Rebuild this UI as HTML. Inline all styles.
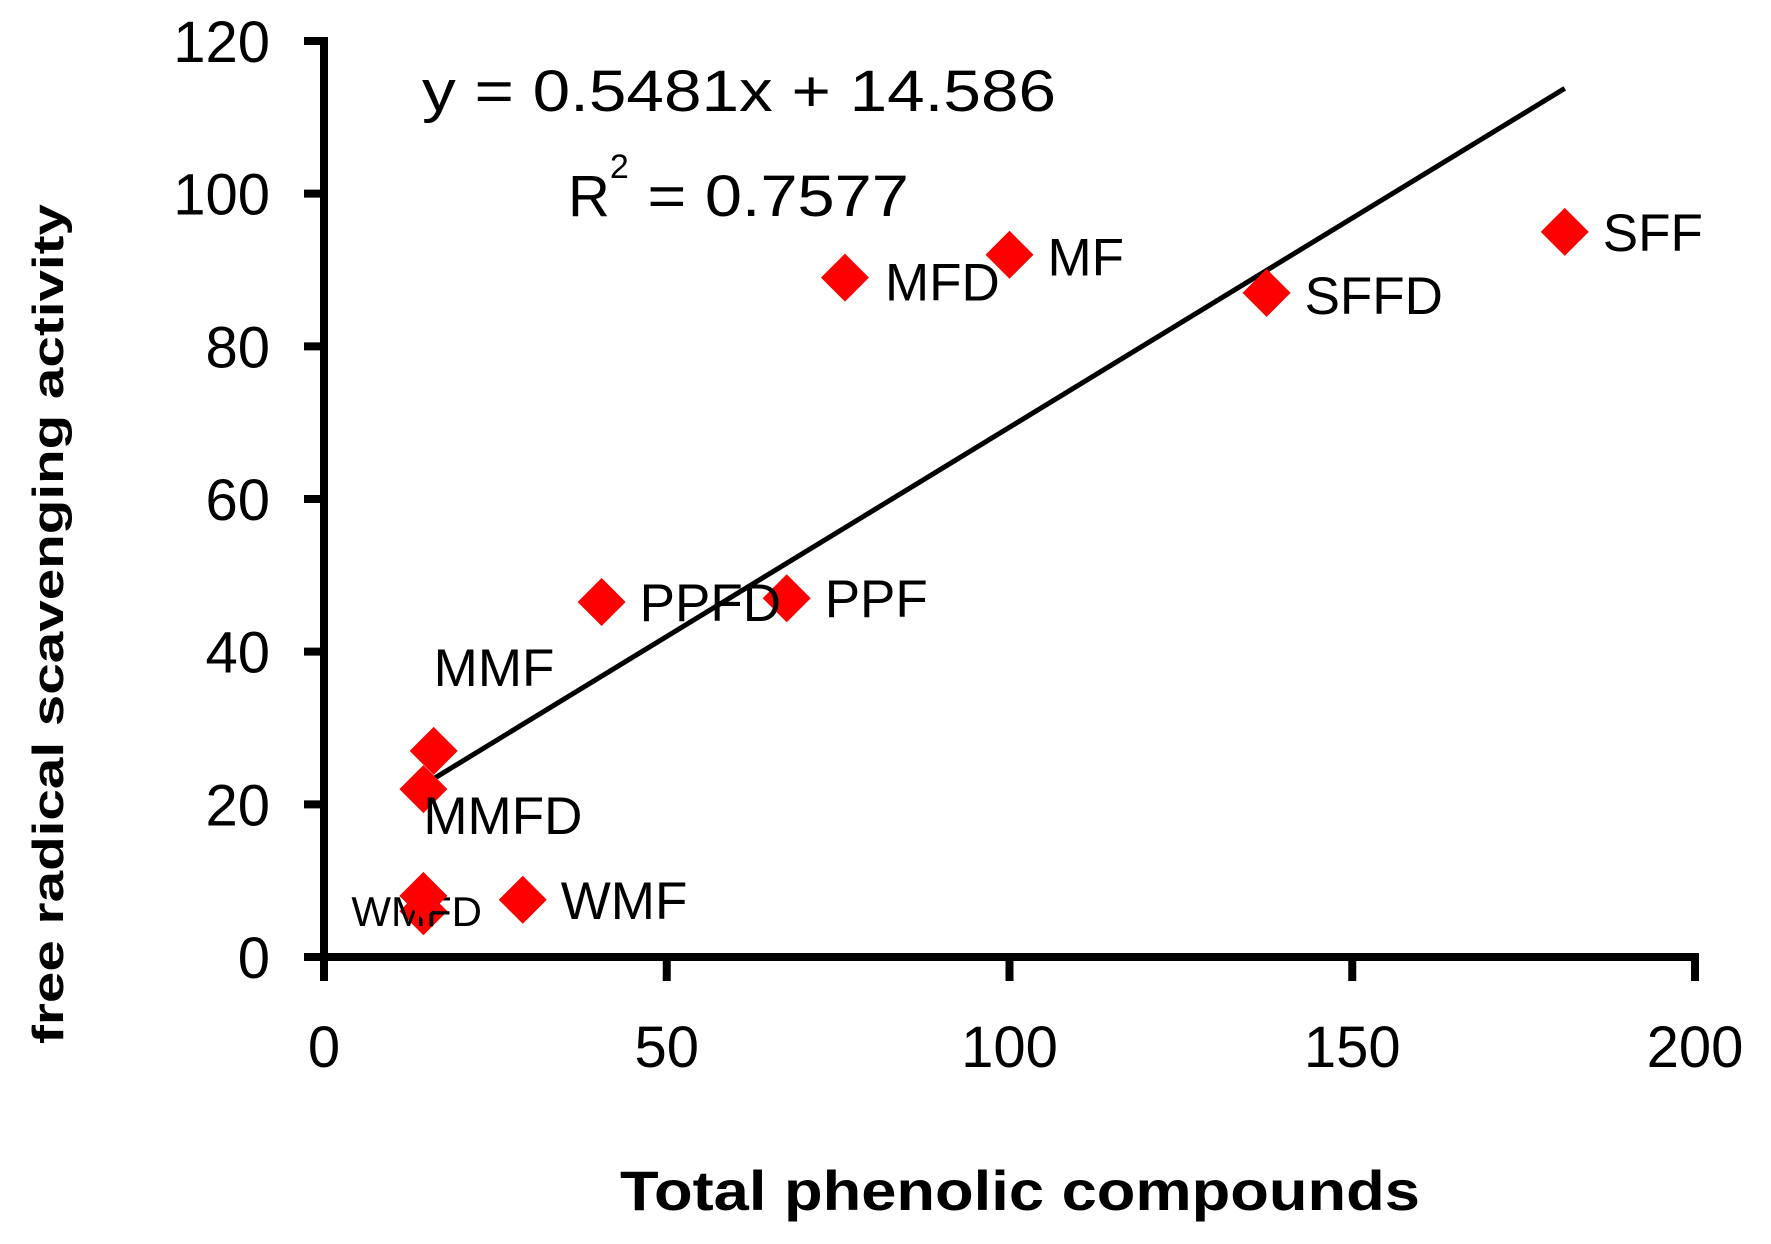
<!DOCTYPE html>
<html><head><meta charset="utf-8"><style>
body{margin:0;background:#fff}
svg{display:block}
text{font-family:"Liberation Sans",sans-serif}
</style></head><body>
<svg id="chart" width="1771" height="1244" viewBox="0 0 1771 1244">
<g id="axes"></g>
<g id="marks"></g>
<text x="422" y="111" font-size="58" textLength="634" lengthAdjust="spacingAndGlyphs">y = 0.5481x + 14.586</text>
<text x="568" y="216" font-size="58">R<tspan font-size="34" dy="-38">2</tspan><tspan dy="38" textLength="280" lengthAdjust="spacingAndGlyphs"> = 0.7577</tspan></text>
<text x="1020" y="1210" font-size="56" font-weight="bold" text-anchor="middle" textLength="800" lengthAdjust="spacingAndGlyphs">Total phenolic compounds</text>
<text transform="translate(63,624) rotate(-90)" font-size="44" font-weight="bold" text-anchor="middle" textLength="840" lengthAdjust="spacingAndGlyphs">free radical scavenging activity</text>
</svg>
<script>
const names=["SFF","SFFD","MF","MFD","PPF","PPFD","MMF","MMFD","WMF","WMFD","WMFD2"];
const xVals=[181,137.5,100,76,67.5,40.5,16,14.5,29,14.5,14.5];
const yVals=[95,87,92,89,47,46.5,27,22,7.5,6,8];
const labelText=["SFF","SFFD","MF","MFD","PPF","PPFD","MMF","MMFD","WMF","WMFD",""];
const labelDx=[38,38,38,40,38,38,0,0,38,-72,0];
const labelDy=[14,16,16,18,14,14,-70,40,14,10,0];
const xTicks=[0,50,100,150,200];
const yTicks=[0,20,40,60,80,100,120];
const slope=0.5481, intercept=14.586, fitRange=[14.5,181];
const X0=324,X1=1695,Y0=957,Y1=41;
const sx=v=>X0+(v-0)/(200-0)*(X1-X0);
const sy=v=>Y0-(v-0)/(120-0)*(Y0-Y1);
const NS="http://www.w3.org/2000/svg";
function mk(t,a,p){const e=document.createElementNS(NS,t);for(const k in a)e.setAttribute(k,a[k]);p.appendChild(e);return e;}
const ax=document.getElementById('axes'), mg=document.getElementById('marks');
let e=mk('line',{x1:X0,y1:Y1-4,x2:X0,y2:Y0,stroke:'#000','stroke-width':8},ax);


e=mk('line',{x1:X0-4,y1:Y0,x2:X1+4,y2:Y0,stroke:'#000','stroke-width':8},ax);


yTicks.forEach(v=>{
 let t=mk('line',{x1:X0-20,y1:sy(v),x2:X0,y2:sy(v),stroke:'#000','stroke-width':8},ax);
 
 
 let l=mk('text',{x:270,y:sy(v)+21,'font-size':58,'text-anchor':'end'},ax);l.textContent=v;
 
 
});
xTicks.forEach(v=>{
 let t=mk('line',{x1:sx(v),y1:Y0,x2:sx(v),y2:Y0+24,stroke:'#000','stroke-width':8},ax);
 
 
 let l=mk('text',{x:sx(v),y:1067,'font-size':58,'text-anchor':'middle'},ax);l.textContent=v;
 
 
});
let fl=mk('line',{x1:sx(fitRange[0]),y1:sy(slope*fitRange[0]+intercept),x2:sx(fitRange[1]),y2:sy(slope*fitRange[1]+intercept),stroke:'#000','stroke-width':5},mg);


xVals.forEach((xv,i)=>{
 const cx=sx(xv),cy=sy(yVals[i]),r=24;
 let p=mk('polygon',{points:`${cx},${cy-r} ${cx+r},${cy} ${cx},${cy+r} ${cx-r},${cy}`,fill:'#ff0000'},mg);
 
 
 if(labelText[i]){
  let l=mk('text',{x:cx+labelDx[i],y:cy+labelDy[i]+5,'font-size':names[i]==="WMFD"?42:53},mg);
  l.textContent=labelText[i];
  
  
 }
});
</script>
</body></html>
